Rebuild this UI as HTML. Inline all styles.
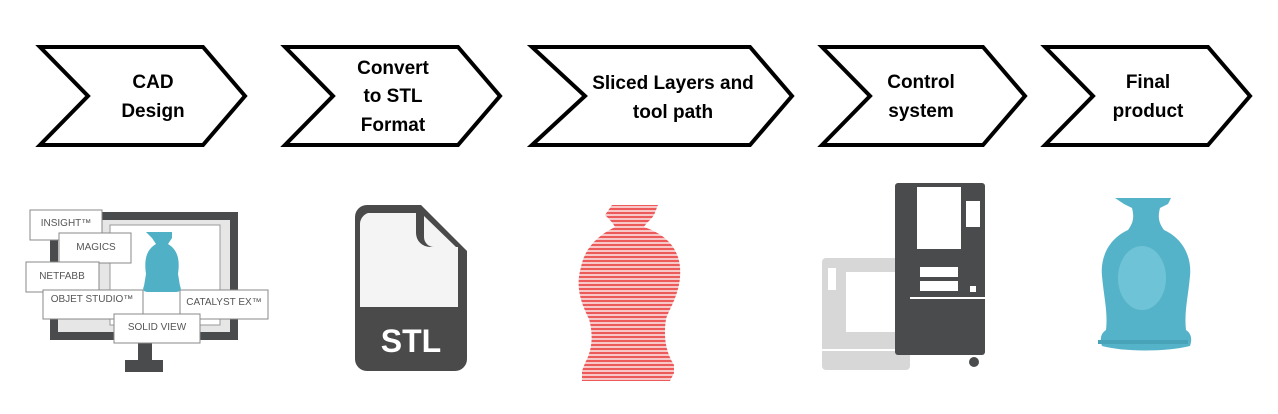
<!DOCTYPE html>
<html><head><meta charset="utf-8"><style>
html,body{margin:0;padding:0;background:#fff;width:1278px;height:414px;overflow:hidden}
svg{display:block}
.t{font-family:"Liberation Sans",sans-serif;font-weight:bold;font-size:19px;fill:#000;text-anchor:middle}
.s{font-family:"Liberation Sans",sans-serif;font-size:10px;fill:#555;text-anchor:middle}
</style></head><body>
<svg width="1278" height="414" viewBox="0 0 1278 414">
<g fill="#fff" stroke="#000" stroke-width="4" stroke-linejoin="miter">
<polygon points="40,47 203,47 245,96 203,145 40,145 88,96"/>
<polygon points="285,47 458,47 500,96 458,145 285,145 333,96"/>
<polygon points="532,47 750,47 792,96 750,145 532,145 585,96"/>
<polygon points="822,47 983,47 1025,96 983,145 822,145 870,96"/>
<polygon points="1045,47 1208,47 1250,96 1208,145 1045,145 1093,96"/>
</g>
<text class="t" x="153" y="88">CAD</text><text class="t" x="153" y="117">Design</text>
<text class="t" x="393" y="74">Convert</text><text class="t" x="393" y="102">to STL</text><text class="t" x="393" y="131">Format</text>
<text class="t" x="673" y="89">Sliced Layers and</text><text class="t" x="673" y="118">tool path</text>
<text class="t" x="921" y="88">Control</text><text class="t" x="921" y="117">system</text>
<text class="t" x="1148" y="88">Final</text><text class="t" x="1148" y="117">product</text>

<!-- monitor -->
<rect x="50" y="212" width="188" height="128" fill="#4a4b4d"/>
<rect x="58" y="220" width="172" height="112" fill="#e6e6e6"/>
<rect x="110" y="225" width="110" height="100" fill="#fff" stroke="#999"/>
<rect x="138" y="340" width="14" height="22" fill="#4a4b4d"/>
<rect x="125" y="360" width="38" height="12" fill="#4a4b4d"/>
<g fill="#fff" stroke="#888">
<rect x="30" y="210" width="72" height="30"/>
<rect x="59" y="233" width="72" height="30"/>
<rect x="26" y="262" width="73" height="30"/>
<rect x="43" y="290" width="100" height="29"/>
<rect x="180" y="290" width="88" height="29"/>
<rect x="114" y="314" width="86" height="29"/>
</g>
<text class="s" x="66" y="226">INSIGHT™</text>
<text class="s" x="96" y="250">MAGICS</text>
<text class="s" x="62" y="279">NETFABB</text>
<text class="s" x="92" y="302">OBJET STUDIO™</text>
<text class="s" x="224" y="305">CATALYST EX™</text>
<text class="s" x="157" y="330">SOLID VIEW</text>
<path d="M146,232 h26 v6 l-4,6 c10,6 12,16 10,30 l2,12 c2,4 0,6 -4,6 h-28 c-4,0 -6,-2 -4,-6 l2,-12 c-2,-14 0,-24 10,-30 l-4,-6z" fill="#4fb0c6"/>

<!-- STL file -->
<path d="M368,205 h53 l46,46 v108 a12,12 0 0 1 -12,12 h-88 a12,12 0 0 1 -12,-12 v-142 a12,12 0 0 1 12,-12z" fill="#4a4a4a"/>
<path d="M368,213 h48 v20 a14,14 0 0 0 14,14 h28 v60 h-98 v-82 a12,12 0 0 1 8,-12z" fill="#f4f4f4"/>
<path d="M424,216 l32,31 h-22 a10,10 0 0 1 -10,-10z" fill="#f4f4f4"/>
<rect x="366" y="312" width="92" height="51" fill="#4a4a4a"/>
<text x="411" y="352" style="font-family:'Liberation Sans Narrow','Liberation Sans',sans-serif;font-weight:bold;font-size:32px;fill:#fff;text-anchor:middle">STL</text>

<!-- sliced vase -->
<defs><pattern id="st" width="4" height="4" patternUnits="userSpaceOnUse"><rect width="4" height="2" fill="#ec5a5a"/><rect y="2" width="4" height="2" fill="#f8c8c8"/></pattern></defs>
<path d="M612,205 h46 l-4,10 c-4,6 -8,8 -10,12 c18,6 34,18 36,40 c2,24 -10,40 -14,52 c-2,14 -2,30 8,46 v8 l-4,8 h-88 v-10 l3,-8 c8,-14 8,-30 4,-44 c-8,-16 -14,-32 -8,-52 c4,-20 18,-32 34,-40 c-2,-4 -6,-8 -10,-12z" fill="url(#st)"/>

<!-- printer -->
<rect x="822" y="258" width="88" height="112" rx="4" fill="#d7d7d7"/>
<rect x="828" y="268" width="8" height="22" fill="#fff"/>
<rect x="846" y="272" width="54" height="60" fill="#fff"/>
<rect x="822" y="349" width="88" height="2" fill="#fff"/>
<rect x="895" y="183" width="90" height="172" rx="3" fill="#4a4b4d"/>
<rect x="917" y="187" width="44" height="62" fill="#fff"/>
<rect x="966" y="201" width="14" height="26" fill="#fff"/>
<rect x="920" y="267" width="38" height="10" fill="#fff"/>
<rect x="920" y="281" width="38" height="10" fill="#fff"/>
<rect x="970" y="286" width="6" height="6" fill="#fff"/>
<rect x="910" y="297" width="75" height="2" fill="#fff"/>
<circle cx="974" cy="362" r="5" fill="#4a4b4d"/>

<!-- lion -->
<path d="M1115,198 h56 l-3,6 l-8,4 c-2,8 -2,14 4,22 c18,8 28,26 26,46 c-2,22 -6,36 -4,54 c6,4 6,10 4,16 c-24,6 -66,6 -88,0 c-2,-6 -2,-12 4,-16 c2,-18 -2,-32 -4,-54 c-2,-20 8,-38 26,-46 c6,-8 6,-14 4,-22 l-8,-4z" fill="#55b3c9"/>
<ellipse cx="1142" cy="278" rx="24" ry="32" fill="#6fc3d6"/>
<rect x="1098" y="340" width="90" height="4" fill="#48a3b9"/>
</svg>
</body></html>
